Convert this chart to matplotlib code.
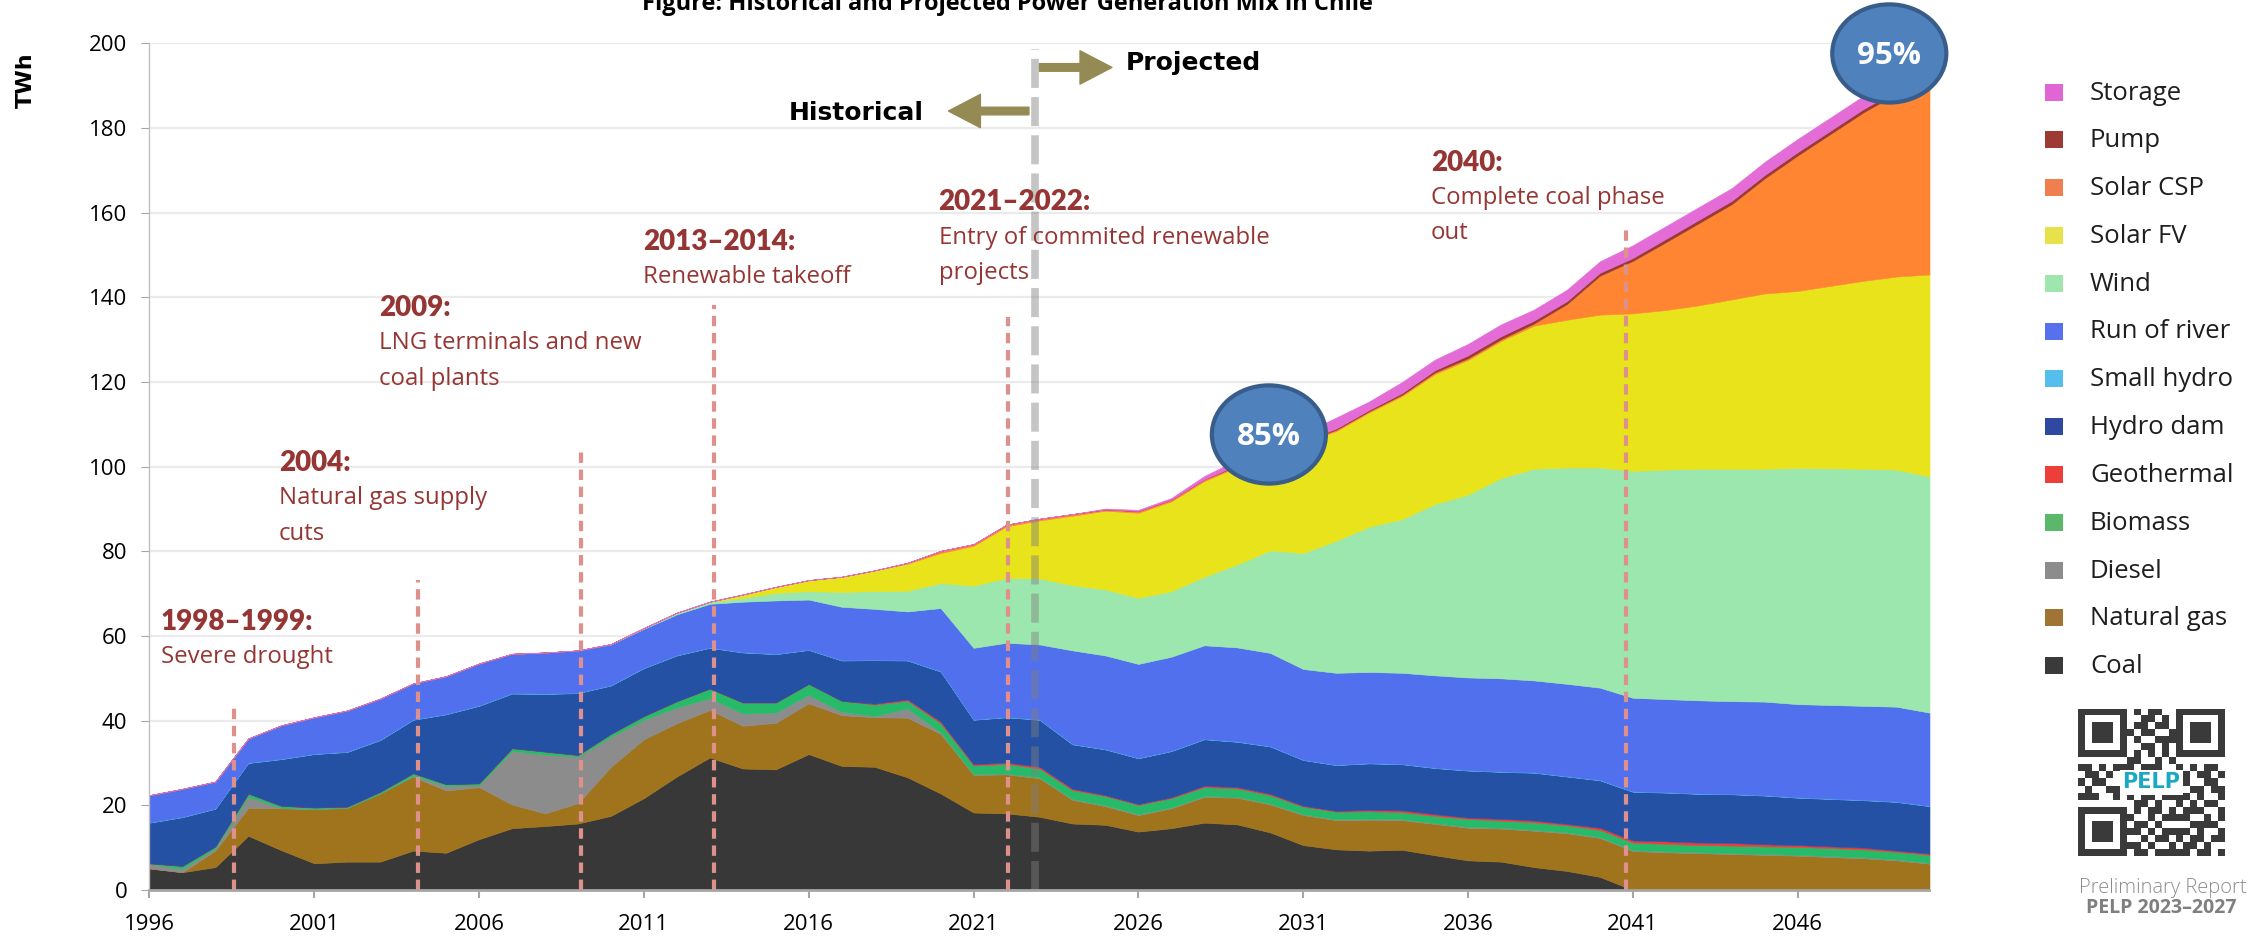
import numpy as np
import matplotlib.pyplot as plt
from matplotlib.patches import Ellipse, FancyArrowPatch, Rectangle
from matplotlib.colors import ListedColormap

years = np.arange(1996, 2051)

# TWh per source (1996 .. 2050)
coal = [5.1, 4.2, 5.4, 12.8, 9.4, 6.3, 6.7, 6.7, 9.3, 8.8,
        12.0, 14.6, 15.1, 15.7, 17.5, 21.7, 26.8, 31.3, 28.7, 28.5,
        32.1, 29.3, 29.1, 26.6, 22.8, 18.3, 18.1, 17.3, 15.7, 15.4,
        13.8, 14.6, 15.9, 15.5, 13.6, 10.6, 9.6, 9.3, 9.5, 8.2,
        7.0, 6.7, 5.4, 4.5, 3.1, 0, 0, 0, 0, 0,
        0, 0, 0, 0, 0]
natural_gas = [0.0, 0.0, 3.9, 6.6, 9.9, 12.8, 12.7, 16.1, 17.5, 14.7,
               12.3, 5.6, 3.0, 4.8, 11.6, 13.9, 12.6, 11.2, 10.1, 11.0,
               12.0, 12.0, 11.7, 14.1, 14.1, 8.9, 9.2, 9.1, 5.6, 4.4,
               3.9, 4.7, 6.1, 6.3, 6.6, 7.1, 6.9, 7.3, 7.0, 7.4,
               7.7, 7.8, 8.6, 8.9, 9.2, 9.2, 8.9, 8.7, 8.5, 8.3,
               8.1, 7.8, 7.5, 7.0, 6.2]
diesel = [1.0, 0.8, 0.5, 2.6, 0.1, 0.1, 0.0, 0.0, 0.2, 1.1,
          0.4, 12.6, 13.9, 11.0, 7.1, 4.6, 3.7, 2.8, 2.9, 2.4,
          2.0, 0.8, 0.3, 2.2, 0.3, 0.2, 0.2, 0.2, 0.2, 0.2,
          0.2, 0.2, 0.2, 0.2, 0.2, 0.2, 0.2, 0.2, 0.2, 0.2,
          0.2, 0.2, 0.2, 0.2, 0.2, 0.2, 0.2, 0.2, 0.2, 0.2,
          0.2, 0.2, 0.2, 0.2, 0.2]
biomass = [0.2, 0.7, 0.5, 0.8, 0.5, 0.3, 0.3, 0.4, 0.6, 0.4,
           0.5, 0.7, 0.7, 0.4, 0.7, 0.9, 1.5, 2.3, 2.6, 2.4,
           2.6, 2.6, 2.7, 1.8, 2.2, 2.0, 2.3, 2.1, 2.1, 2.2,
           2.2, 2.2, 2.1, 2.0, 2.0, 1.8, 1.8, 1.8, 1.7, 1.7,
           1.9, 1.7, 1.8, 1.7, 1.7, 1.8, 1.8, 1.7, 1.8, 1.8,
           1.9, 1.9, 1.9, 1.8, 1.9]
geothermal = [0, 0, 0, 0, 0, 0, 0, 0, 0, 0,
              0, 0, 0, 0, 0, 0, 0, 0, 0, 0,
              0, 0.0, 0.2, 0.3, 0.4, 0.3, 0.3, 0.4, 0.3, 0.2,
              0.2, 0.2, 0.3, 0.3, 0.3, 0.2, 0.2, 0.3, 0.4, 0.4,
              0.3, 0.4, 0.4, 0.3, 0.5, 0.5, 0.6, 0.6, 0.6, 0.5,
              0.4, 0.4, 0.4, 0.3, 0.3]
hydro_dam = [9.6, 11.5, 8.9, 7.2, 11.0, 12.6, 12.9, 12.2, 12.6, 16.5,
             18.3, 12.9, 13.6, 14.6, 11.4, 11.3, 10.8, 9.6, 11.8, 11.4,
             8.0, 9.5, 10.3, 9.2, 11.8, 10.5, 10.7, 11.1, 10.5, 10.8,
             10.8, 10.9, 11.0, 10.7, 11.2, 10.8, 10.8, 11.0, 10.9, 10.9,
             11.1, 11.1, 11.3, 11.2, 11.2, 11.5, 11.5, 11.5, 11.5, 11.5,
             11.2, 11.2, 11.2, 11.5, 11.2]
small_hydro = [0.1, 0.1, 0.1, 0.1, 0.1, 0.1, 0.1, 0.1, 0.1, 0.1,
               0.1, 0.1, 0.1, 0.1, 0.1, 0.1, 0.1, 0.1, 0.1, 0.1,
               0.1, 0.1, 0.1, 0.1, 0.1, 0.1, 0.1, 0.1, 0.1, 0.1,
               0.1, 0.1, 0.1, 0.1, 0.1, 0.1, 0.1, 0.1, 0.1, 0.1,
               0.1, 0.1, 0.1, 0.1, 0.1, 0.1, 0.1, 0.1, 0.1, 0.1,
               0.1, 0.1, 0.1, 0.1, 0.1]
run_of_river = [6.4, 6.6, 6.3, 5.7, 7.9, 8.6, 9.7, 9.7, 8.5, 8.9,
                9.9, 9.3, 9.7, 10.0, 9.6, 9.2, 9.6, 10.3, 11.9, 12.6,
                11.8, 12.6, 12.0, 11.5, 14.9, 16.9, 17.5, 17.7, 22.1, 22.1,
                22.2, 22.2, 22.1, 22.2, 22.0, 21.4, 21.7, 21.5, 21.5, 21.8,
                21.9, 22.0, 21.7, 21.8, 21.8, 22.1, 22.0, 22.0, 21.9, 22.1,
                22.0, 22.1, 22.2, 22.4, 22.0]
wind = [0, 0, 0, 0, 0, 0, 0, 0, 0, 0,
        0, 0, 0, 0, 0.1, 0.2, 0.4, 0.4, 0.9, 1.8,
        2.0, 3.5, 4.2, 4.9, 5.9, 14.7, 15.3, 15.6, 15.4, 15.6,
        15.6, 15.5, 16.2, 19.6, 24.2, 27.4, 31.2, 34.3, 36.3, 40.5,
        43.2, 47.3, 50.0, 51.1, 52.0, 53.6, 54.2, 54.7, 54.9, 55.0,
        55.8, 55.9, 56.0, 56.0, 55.8]
solar_fv = [0, 0, 0, 0, 0, 0, 0, 0, 0, 0,
            0, 0, 0, 0, 0, 0, 0, 0.1, 0.8, 1.4,
            2.6, 3.6, 4.9, 6.4, 7.1, 9.4, 12.2, 13.7, 16.4, 18.6,
            20.1, 21.2, 22.6, 23.0, 22.6, 26.0, 25.9, 27.0, 29.1, 30.7,
            31.8, 32.4, 33.8, 34.9, 36.1, 37.2, 37.7, 38.6, 40.0, 41.4,
            41.8, 43.1, 44.4, 45.6, 47.7]
solar_csp = [0, 0, 0, 0, 0, 0, 0, 0, 0, 0,
             0, 0, 0, 0, 0, 0, 0, 0, 0, 0,
             0, 0, 0, 0.2, 0.5, 0.4, 0.4, 0.4, 0.4, 0.3,
             0.4, 0.4, 0.4, 0.3, 0.3, 0.3, 0.3, 0.3, 0.3, 0.4,
             0.4, 0.4, 0.5, 3.7, 9.2, 12.4, 16.0, 19.4, 22.5, 27.2,
             32.0, 35.9, 39.8, 43.2, 43.7]
pump = [0, 0, 0, 0, 0, 0, 0, 0, 0, 0,
        0, 0, 0, 0, 0, 0, 0, 0, 0, 0,
        0, 0, 0, 0, 0, 0, 0, 0, 0, 0,
        0, 0, 0, 0.2, 0.2, 0.2, 0.3, 0.3, 0.4, 0.5,
        0.7, 0.7, 0.7, 0.7, 0.7, 0.7, 0.8, 0.8, 0.8, 0.8,
        0.8, 0.8, 0.8, 0.8, 0.8]
storage = [0, 0, 0, 0, 0, 0, 0, 0, 0, 0,
           0, 0, 0, 0, 0, 0, 0, 0, 0, 0,
           0, 0, 0, 0, 0, 0, 0, 0, 0, 0.2,
           0.3, 0.4, 0.8, 1.2, 1.4, 1.8, 2.6, 2.0, 2.6, 2.5,
           2.7, 2.8, 2.6, 2.7, 2.7, 3.0, 3.0, 3.0, 3.0, 3.1,
           3.1, 3.1, 3.1, 3.1, 3.1]

names = ["Coal", "Natural gas", "Diesel", "Biomass", "Geothermal", "Hydro dam",
         "Small hydro", "Run of river", "Wind", "Solar FV", "Solar CSP", "Pump", "Storage"]
area_colors = ["#383838", "#A0741D", "#8C8C8C", "#27BB69", "#EE3B3B", "#2451A4",
               "#4FBDEB", "#5170EE", "#9BE7AD", "#E8E31A", "#FF8533", "#9B3A34", "#E46CD6"]
legend_colors = ["#3A3A3A", "#A07433", "#8C8C8C", "#5BB86A", "#EE3E3A", "#2F49A0",
                 "#56BEEF", "#5670EE", "#9EE6AE", "#E8E24A", "#EF7F4E", "#9C3A33", "#E066D6"]

# event annotations
event_x = [1998.57, 2004.15, 2009.09, 2013.13, 2022.04, 2040.78]
event_top = [43.0, 73.2, 104.9, 138.2, 135.4, 157.1]
ann_x = [1996.34, 1999.93, 2002.96, 2010.98, 2019.94, 2034.88]
ann_y = [63.3, 100.8, 137.4, 153.0, 162.4, 171.8]
ann_head = ["1998–1999:", "2004:", "2009:", "2013–2014:", "2021–2022:", "2040:"]
ann_body = [["Severe drought"],
            ["Natural gas supply", "cuts"],
            ["LNG terminals and new", "coal plants"],
            ["Renewable takeoff"],
            ["Entry of commited renewable", "projects"],
            ["Complete coal phase", "out"]]

bubble_x = [2029.96, 2048.78]
bubble_y = [107.6, 197.6]
bubble_txt = ["85%", "95%"]

W, H = 2266, 942
fig = plt.figure(figsize=(W / 100, H / 100), dpi=100)
plt.rcParams['font.family'] = ['Open Sans', 'DejaVu Sans']
ax = fig.add_axes([149.4 / W, 52 / H, 1780.1 / W, 846.7 / H])

series = [coal, natural_gas, diesel, biomass, geothermal, hydro_dam, small_hydro,
          run_of_river, wind, solar_fv, solar_csp, pump, storage]
ax.stackplot(years, *series, colors=area_colors, edgecolor='face', linewidth=0.4, zorder=2)

ax.set_xlim(1996, 2050)
ax.set_ylim(0, 200)
ax.set_yticks(range(0, 201, 20))
ax.set_xticks(range(1996, 2050, 5))
ax.set_axisbelow(True)
ax.grid(axis='y', color='#EBEBEB', lw=1.6, zorder=0)
for s in ['top', 'right']:
    ax.spines[s].set_visible(False)
ax.spines['left'].set_color('#BFBFBF')
ax.spines['left'].set_linewidth(1.0)
ax.spines['bottom'].set_color('#A6A6A6')
ax.spines['bottom'].set_linewidth(2.0)
ax.spines['bottom'].set_zorder(5)
ax.tick_params(axis='y', length=6, color='#A6A6A6', labelsize=16, pad=10)
ax.tick_params(axis='x', length=6, width=1.5, color='#A6A6A6', labelsize=16, pad=11)

# event markers
ax.vlines(event_x, 0, event_top, colors='#DE918C', linewidth=3,
          linestyles=(0, (2.5, 1.6)), zorder=4)
ax.vlines(2022.85, 0, 198.6, colors='#7F7F7F', alpha=0.45, linewidth=5.5,
          linestyles=(0, (3.8, 1.2)), zorder=4)

red = '#963634'
for x, y, head, body in zip(ann_x, ann_y, ann_head, ann_body):
    ax.text(x, y, head, family='Lato', fontweight='heavy', fontsize=20, color=red,
            ha='left', va='center', zorder=6)
    for k, line in enumerate(body):
        ax.text(x, y - 8.3 * (k + 1), line, fontsize=17.3, color=red,
                ha='left', va='center', zorder=6)

# historical / projected arrows
arrow_c = '#948A54'
ax.add_patch(FancyArrowPatch((2022.68, 184.0), (2020.24, 184.0),
                             arrowstyle='simple,head_length=2.3,head_width=2.4,tail_width=0.55',
                             mutation_scale=10, color=arrow_c, shrinkA=0, shrinkB=0, zorder=6))
ax.add_patch(FancyArrowPatch((2023.0, 194.3), (2025.2, 194.3),
                             arrowstyle='simple,head_length=2.3,head_width=2.4,tail_width=0.55',
                             mutation_scale=10, color=arrow_c, shrinkA=0, shrinkB=0, zorder=6))
ax.text(2019.5, 183.5, "Historical", family='DejaVu Sans', fontweight='bold', fontsize=18,
        ha='right', va='center', color='black')
ax.text(2025.63, 195.3, "Projected", family='DejaVu Sans', fontweight='bold', fontsize=18,
        ha='left', va='center', color='black')

# percentage bubbles
for bx, by, t in zip(bubble_x, bubble_y, bubble_txt):
    ax.add_patch(Ellipse((bx, by), 3.46, 23.2, facecolor='#4F81BD', edgecolor='#385D8A',
                         linewidth=3, zorder=7, clip_on=False))
    ax.text(bx, by - 0.5, t, color='white', fontweight='bold', fontsize=22.5,
            ha='center', va='center', zorder=8, clip_on=False)

fig.text(1007 / W, 1 - 10 / H, "Figure: Historical and Projected Power Generation Mix in Chile",
         fontweight='bold', fontsize=17, ha='center', va='baseline')
fig.text(26 / W, 1 - 80 / H, "TWh", family='DejaVu Sans', fontweight='bold', fontsize=16,
         rotation=90, ha='center', va='center')

# legend, top to bottom
for i, (name, c) in enumerate(zip(names[::-1], legend_colors[::-1])):
    yc = 92 + 47.8 * i
    fig.patches.append(Rectangle((2045 / W, 1 - (yc + 8.5) / H), 18 / W, 17 / H,
                                 transform=fig.transFigure, facecolor=c, edgecolor='none'))
    fig.text(2090 / W, 1 - (yc + 1) / H, name, fontsize=18.5, ha='left', va='center',
             color='#1E1E1E')

# QR code badge
qr_rows = ["111111101011001111111",
           "100000100110101000001",
           "101110101101101011101",
           "101110110110011011101",
           "101110101001111011101",
           "100000100110101000001",
           "111111101010101111111",
           "000000011001010000000",
           "110101110111001010110",
           "011010000000000101101",
           "101100100000001100110",
           "010011100000000011011",
           "111001010110111101001",
           "000000001101001010110",
           "111111101011010111001",
           "100000110010111100101",
           "101110101101000011110",
           "101110111010111101001",
           "101110100101101011011",
           "100000111010010110100",
           "111111101101111101101"]
qr = np.array([[int(ch) for ch in row] for row in qr_rows])
qax = fig.add_axes([2078 / W, 1 - 857 / H, 147 / W, 149 / H])
qax.imshow(qr, cmap=ListedColormap(['white', '#3A3A3A']), interpolation='nearest')
qax.axis('off')
qax.text(10, 10, "PELP", color='#1BA8C4', fontweight='bold', fontsize=15,
         ha='center', va='center', family='DejaVu Sans',
         bbox=dict(facecolor='white', edgecolor='none', pad=2))

fig.text(2163 / W, 1 - 888 / H, "Preliminary Report", fontsize=14.5, fontweight='light',
         color='#8C8C8C', ha='center', va='center')
fig.text(2161 / W, 1 - 908 / H, "PELP 2023–2027", fontsize=14, fontweight='bold',
         color='#7F7F7F', ha='center', va='center')

fig.savefig("out.png", dpi=100)
